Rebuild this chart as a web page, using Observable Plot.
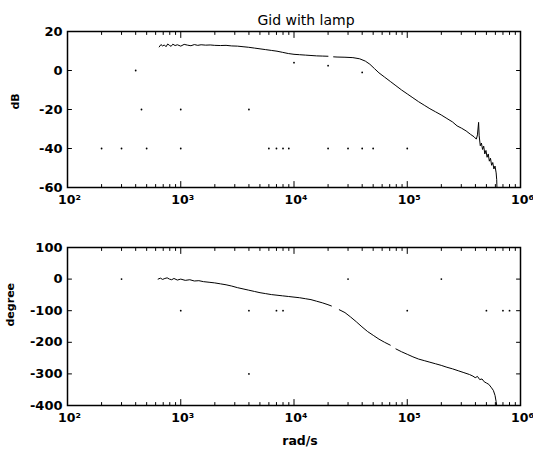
<!DOCTYPE html>
<html><head><meta charset="utf-8">
<script src="https://cdn.jsdelivr.net/npm/d3@7"></script>
<script src="https://cdn.jsdelivr.net/npm/@observablehq/plot@0.6"></script>
<style>
body{margin:0;background:#fff}
#chart{width:533px;height:452px;overflow:hidden;background:#fff}
#chart svg{display:block}
</style>
</head><body><div id="chart"></div>
<script>
const titleText = "Gid with lamp";
const xLabel = "rad/s";
const magLabel = "dB";
const phaseLabel = "degree";
const xMajor = [1e2, 1e3, 1e4, 1e5, 1e6];
const xTickLabels = ["10²", "10³", "10⁴", "10⁵", "10⁶"];
const minorMultipliers = [2, 3, 4, 5, 6, 7, 8, 9];
const magTicks = [-60, -40, -20, 0, 20];
const phaseTicks = [-400, -300, -200, -100, 0, 100];

// magnitude curve: log10(rad/s) and dB
const magLogFreq = [2.81,2.825,2.84,2.855,2.87,2.885,2.90,2.915,2.93,2.95,2.97,3.00,3.03,3.06,3.09,3.12,3.15,3.18,3.22,3.26,3.30,3.35,3.40,3.45,3.50,3.55,3.60,3.65,3.70,3.75,3.80,3.85,3.90,3.95,4.00,4.05,4.10,4.15,4.20,4.25,4.30,4.33,4.35,4.38,4.45,4.52,4.58,4.63,4.67,4.71,4.75,4.80,4.85,4.90,4.95,5.00,5.05,5.10,5.15,5.20,5.25,5.30,5.35,5.40,5.44,5.48,5.52,5.56,5.59,5.61,5.62,5.63,5.635,5.645,5.655,5.665,5.675,5.685,5.695,5.705,5.715,5.725,5.735,5.745,5.755,5.765,5.775,5.785,5.79,5.792];
const magDb = [12.1,13.3,12.6,13.1,12.2,13.6,12.9,12.4,13.5,12.8,13.2,12.5,13.4,13.0,12.7,13.3,12.9,13.2,13.0,13.1,12.9,12.8,12.9,12.6,12.5,12.2,11.9,11.5,11.1,10.7,10.3,9.9,9.3,8.7,8.3,8.1,7.9,7.7,7.5,7.4,7.3,null,7.0,6.9,6.8,6.6,6.0,4.8,3.2,1.0,-1.2,-3.4,-5.6,-7.8,-10.0,-12.0,-14.0,-16.0,-17.8,-19.6,-21.2,-22.8,-24.6,-26.4,-28.4,-29.6,-31.0,-32.8,-34.0,-35.2,-33.0,-26.6,-33.5,-38.6,-37.2,-40.5,-38.8,-42.8,-41.0,-44.5,-42.8,-46.5,-45.0,-48.6,-47.2,-50.5,-49.0,-52.5,-56.0,-60.0];

// phase curve: log10(rad/s) and degrees
const phaseLogFreq = [2.80,2.82,2.84,2.86,2.88,2.90,2.92,2.94,2.97,3.00,3.04,3.08,3.12,3.16,3.20,3.25,3.30,3.35,3.40,3.45,3.50,3.55,3.60,3.65,3.70,3.75,3.80,3.85,3.90,3.95,4.00,4.05,4.10,4.15,4.20,4.25,4.30,4.33,4.36,4.40,4.45,4.50,4.55,4.60,4.65,4.70,4.75,4.80,4.85,4.87,4.90,4.95,5.00,5.05,5.10,5.15,5.20,5.25,5.30,5.35,5.40,5.45,5.50,5.55,5.58,5.60,5.62,5.64,5.66,5.68,5.70,5.72,5.74,5.76,5.775,5.785,5.79];
const phaseDeg = [0,3,-1,2,4,0,-2,2,-3,0,-4,-2,-6,-5,-8,-10,-12,-15,-18,-22,-27,-31,-35,-39,-43,-46,-49,-51,-53,-55,-57,-59,-62,-65,-70,-75,-81,-85,null,-97,-106,-120,-135,-151,-166,-178,-190,-200,-209,null,-221,-230,-238,-246,-253,-258,-263,-268,-273,-279,-284,-290,-296,-302,-307,-312,-308,-318,-316,-325,-329,-333,-342,-352,-368,-388,-400];

// faint remnants of the dotted grid
const magGridDots = [[200,-40],[300,-40],[500,-40],[1000,-40],[6000,-40],[7000,-40],[8000,-40],[9000,-40],[20000,-40],[30000,-40],[40000,-40],[50000,-40],[100000,-40],[400,0],[450,-20],[1000,-20],[4000,-20],[10000,4],[20000,2.5],[40000,-1]];
const phaseGridDots = [[300,0],[30000,0],[200000,0],[1000,-100],[4000,-100],[7000,-100],[8000,-100],[100000,-100],[500000,-100],[700000,-100],[800000,-100],[4000,-300]];

const sans = "'DejaVu Sans', sans-serif";
const tickShape = {draw(ctx, l) { ctx.moveTo(0, 0); ctx.lineTo(0, -l); }};
const xMinor = xMajor.slice(0, -1).flatMap(d => minorMultipliers.map(m => d * m));

function panel({height, marginTop, marginBottom, yDomain, yTicks, lf, vals, dots, yLabel, yLabelDx, extra}) {
  const data = lf.map((v, i) => ({x: Math.pow(10, v), y: vals[i]}));
  const tickOpts = {anchor: "start", shape: tickShape, stroke: "black", strokeWidth: 1};
  return Plot.plot({
    width: 533, height, marginTop, marginBottom, marginLeft: 67, marginRight: 13,
    x: {type: "log", domain: [1e2, 1e6], axis: null},
    y: {domain: yDomain, axis: null},
    style: {fontFamily: sans, background: "white", color: "black", overflow: "visible"},
    marks: [
      Plot.dot(dots, {x: d => d[0], y: d => d[1], r: 0.9, fill: "black"}),
      Plot.line(data, {x: "x", y: "y", stroke: "black", strokeWidth: 1}),
      Plot.frame({stroke: "black", strokeWidth: 1.5}),
      Plot.vector(xMajor, {x: d => d, frameAnchor: "bottom", rotate: 0, length: 6, ...tickOpts}),
      Plot.vector(xMajor, {x: d => d, frameAnchor: "top", rotate: 180, length: 6, ...tickOpts}),
      Plot.vector(xMinor, {x: d => d, frameAnchor: "bottom", rotate: 0, length: 3, ...tickOpts}),
      Plot.vector(xMinor, {x: d => d, frameAnchor: "top", rotate: 180, length: 3, ...tickOpts}),
      Plot.vector(yTicks, {y: d => d, frameAnchor: "left", rotate: 90, length: 4, ...tickOpts}),
      Plot.vector(yTicks, {y: d => d, frameAnchor: "right", rotate: -90, length: 4, ...tickOpts}),
      Plot.text(yTicks, {y: d => d, frameAnchor: "left", dx: -5, textAnchor: "end", text: d => String(d), fontSize: 13, fontWeight: "bold"}),
      Plot.text(xMajor, {x: d => d, frameAnchor: "bottom", dx: -9.5, dy: 16, textAnchor: "start", text: (d, i) => xTickLabels[i], fontSize: 12.5, fontWeight: "bold"}),
      Plot.text([yLabel], {frameAnchor: "left", dx: yLabelDx, rotate: -90, text: d => d, fontSize: 11, fontWeight: "bold"}),
      ...extra
    ]
  });
}

const magPanel = panel({
  height: 226, marginTop: 31, marginBottom: 39,
  yDomain: [-60, 20], yTicks: magTicks, lf: magLogFreq, vals: magDb, dots: magGridDots,
  yLabel: magLabel, yLabelDx: -52,
  extra: [Plot.text([titleText], {frameAnchor: "top", dx: 12, dy: -16.5, text: d => d, fontSize: 14})]
});
const phasePanel = panel({
  height: 226, marginTop: 21, marginBottom: 47,
  yDomain: [-400, 100], yTicks: phaseTicks, lf: phaseLogFreq, vals: phaseDeg, dots: phaseGridDots,
  yLabel: phaseLabel, yLabelDx: -57,
  extra: [Plot.text([xLabel], {frameAnchor: "bottom", dx: 6, dy: 39, text: d => d, fontSize: 12.5, fontWeight: "bold"})]
});
const chart = document.getElementById("chart");
chart.appendChild(magPanel);
chart.appendChild(phasePanel);
</script>
</body></html>
